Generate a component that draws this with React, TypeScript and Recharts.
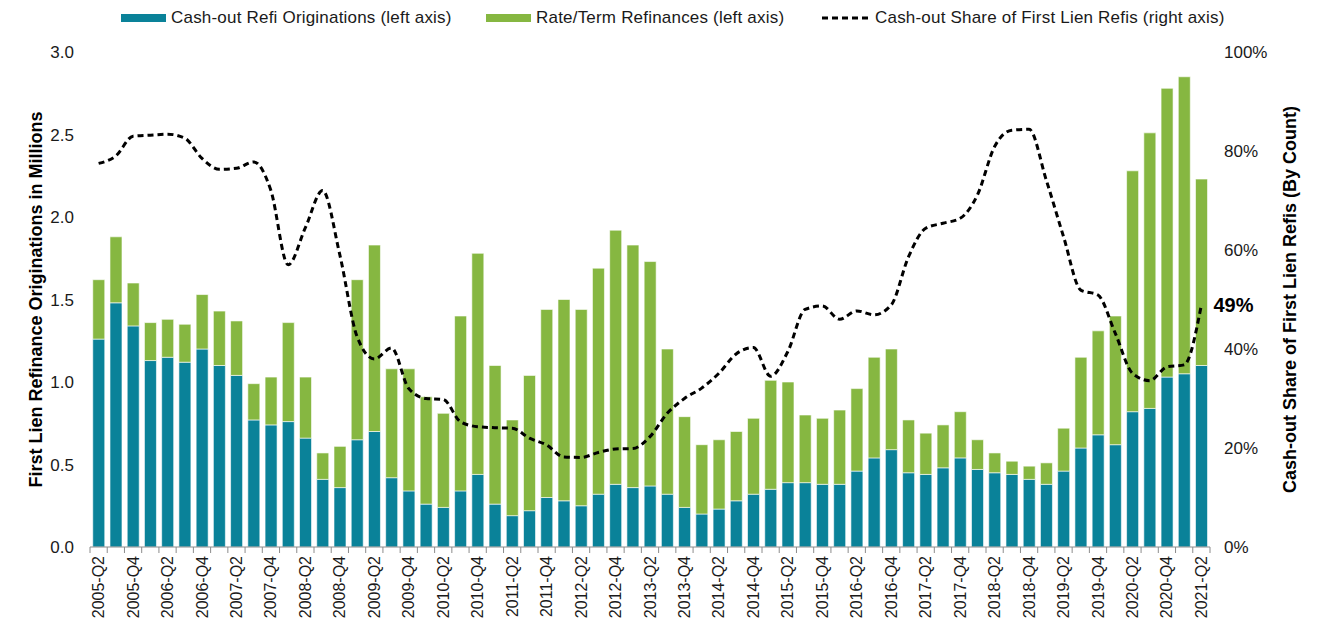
import React from 'react';
import { ComposedChart, Bar, Line, XAxis, YAxis, Legend, LabelList } from 'recharts';

const quarters = [
  '2005-Q2', '2005-Q3', '2005-Q4',
  '2006-Q1', '2006-Q2', '2006-Q3', '2006-Q4',
  '2007-Q1', '2007-Q2', '2007-Q3', '2007-Q4',
  '2008-Q1', '2008-Q2', '2008-Q3', '2008-Q4',
  '2009-Q1', '2009-Q2', '2009-Q3', '2009-Q4',
  '2010-Q1', '2010-Q2', '2010-Q3', '2010-Q4',
  '2011-Q1', '2011-Q2', '2011-Q3', '2011-Q4',
  '2012-Q1', '2012-Q2', '2012-Q3', '2012-Q4',
  '2013-Q1', '2013-Q2', '2013-Q3', '2013-Q4',
  '2014-Q1', '2014-Q2', '2014-Q3', '2014-Q4',
  '2015-Q1', '2015-Q2', '2015-Q3', '2015-Q4',
  '2016-Q1', '2016-Q2', '2016-Q3', '2016-Q4',
  '2017-Q1', '2017-Q2', '2017-Q3', '2017-Q4',
  '2018-Q1', '2018-Q2', '2018-Q3', '2018-Q4',
  '2019-Q1', '2019-Q2', '2019-Q3', '2019-Q4',
  '2020-Q1', '2020-Q2', '2020-Q3', '2020-Q4',
  '2021-Q1', '2021-Q2',
];

// millions of loans
const cashOut = [
  1.26, 1.48, 1.34,
  1.13, 1.15, 1.12, 1.20,
  1.10, 1.04, 0.77, 0.74,
  0.76, 0.66, 0.41, 0.36,
  0.65, 0.70, 0.42, 0.34,
  0.26, 0.24, 0.34, 0.44,
  0.26, 0.19, 0.22, 0.30,
  0.28, 0.25, 0.32, 0.38,
  0.36, 0.37, 0.32, 0.24,
  0.20, 0.23, 0.28, 0.32,
  0.35, 0.39, 0.39, 0.38,
  0.38, 0.46, 0.54, 0.59,
  0.45, 0.44, 0.48, 0.54,
  0.47, 0.45, 0.44, 0.41,
  0.38, 0.46, 0.60, 0.68,
  0.62, 0.82, 0.84, 1.03,
  1.05, 1.10,
];

const rateTerm = [
  0.36, 0.40, 0.26,
  0.23, 0.23, 0.23, 0.33,
  0.33, 0.33, 0.22, 0.29,
  0.60, 0.37, 0.16, 0.25,
  0.97, 1.13, 0.66, 0.74,
  0.65, 0.57, 1.06, 1.34,
  0.84, 0.58, 0.82, 1.14,
  1.22, 1.19, 1.37, 1.54,
  1.47, 1.36, 0.88, 0.55,
  0.42, 0.42, 0.42, 0.46,
  0.66, 0.61, 0.41, 0.40,
  0.45, 0.50, 0.61, 0.61,
  0.32, 0.25, 0.26, 0.28,
  0.18, 0.12, 0.08, 0.08,
  0.13, 0.26, 0.55, 0.63,
  0.78, 1.46, 1.67, 1.75,
  1.80, 1.13,
];

// percent of first lien refis
const cashOutShare = [
  77.5, 79, 83,
  83.2, 83.4, 82.6, 78.5,
  76.3, 76.5, 77.8, 72,
  57, 64.5, 72, 59,
  42.5, 38, 40.2, 32,
  30, 29.8, 25.3, 24.3,
  24.1, 24, 22, 20.6,
  18.2, 18.1, 19.1, 19.8,
  19.9, 22.3, 27, 30,
  32.1, 35.1, 39, 40.3,
  34.5, 39.5, 48, 48.7,
  46, 47.7, 46.9, 48.9,
  58.6, 64.4, 65.4, 66.4,
  71.1, 80.9, 84.2, 84.4,
  74.1, 62.7, 51.9, 50.9,
  43.2, 35.1, 33.6, 36.4,
  36.8, 48.9,
];

const leftTicks = [0, 0.5, 1, 1.5, 2, 2.5, 3];
const rightTicks = [0, 20, 40, 60, 80, 100];
const legendOrder = ['cashOut', 'rateTerm', 'share'];
const legendWidths = [365, 336, 420];

const TEAL = '#0A8299';
const GREEN = '#86B741';
const INK = '#1a1a1a';
const FONT = '"Liberation Sans", Arial, Helvetica, sans-serif';

const data = quarters.map((q, i) => ({
  q,
  cashOut: cashOut[i],
  rateTerm: rateTerm[i],
  share: cashOutShare[i],
}));

const QuarterTick = (props: any) => {
  const { x, y, payload, index } = props;
  const half = payload.offset ?? 8.6;
  const isLast = index === quarters.length - 1;
  return (
    <g>
      <line x1={x - half} x2={x - half} y1={y} y2={y + 6} stroke="#8c8c8c" />
      {isLast && <line x1={x + half} x2={x + half} y1={y} y2={y + 6} stroke="#8c8c8c" />}
      {index % 2 === 0 && (
        <text
          transform={`translate(${x},${y + 9}) rotate(-90)`}
          textAnchor="end"
          dominantBaseline="central"
          fontSize={16}
          fill={INK}
        >
          {payload.value}
        </text>
      )}
    </g>
  );
};

const AxisTitle = (props: any) => {
  const { viewBox, text, dx } = props;
  const cx = viewBox.x + dx;
  const cy = viewBox.y + viewBox.height / 2;
  return (
    <text
      transform={`translate(${cx},${cy}) rotate(-90)`}
      textAnchor="middle"
      dominantBaseline="central"
      fontSize={18}
      fontWeight="bold"
      fill="#000"
    >
      {text}
    </text>
  );
};

const EndLabel = (props: any) => {
  const { x, y, value, index } = props;
  if (index !== cashOutShare.length - 1) return null;
  return (
    <text x={x + 12} y={y} dominantBaseline="central" fontSize={20} fontWeight="bold" fill="#000">
      {Math.round(value)}%
    </text>
  );
};

const LegendContent = (props: any) => {
  const items = [...(props.payload || [])].sort(
    (a: any, b: any) => legendOrder.indexOf(a.dataKey) - legendOrder.indexOf(b.dataKey)
  );
  return (
    <div style={{ display: 'flex', alignItems: 'center', paddingLeft: 113, height: 20, fontSize: 17, letterSpacing: 0.2, color: INK, whiteSpace: 'nowrap' }}>
      {items.map((entry: any, i: number) => (
        <div key={i} style={{ display: 'flex', alignItems: 'center', width: legendWidths[i] }}>
          {entry.type === 'line' ? (
            <svg width={48} height={8} style={{ marginRight: 5 }}>
              <line x1={0} x2={48} y1={4} y2={4} stroke="#000" strokeWidth={3} strokeDasharray="6 4" />
            </svg>
          ) : (
            <span style={{ display: 'inline-block', width: 45, height: 8, background: entry.color, marginRight: 5 }} />
          )}
          <span>{entry.value}</span>
        </div>
      ))}
    </div>
  );
};

export default function App() {
  return (
    <div style={{ width: 1314, height: 611, fontFamily: FONT }}>
      <ComposedChart
        width={1314}
        height={611}
        data={data}
        margin={{ top: 44, right: 0, bottom: 0, left: 0 }}
        barCategoryGap="16%"
        style={{ fontFamily: FONT }}
      >
        <XAxis
          dataKey="q"
          interval={0}
          height={72}
          tickSize={0}
          tickMargin={0}
          tickLine={false}
          axisLine={{ stroke: '#8c8c8c' }}
          tick={<QuarterTick />}
        />
        <YAxis
          yAxisId="left"
          width={82}
          domain={[0, 3]}
          ticks={leftTicks}
          axisLine={false}
          tickLine={false}
          tickMargin={10}
          tickFormatter={(v: number) => v.toFixed(1)}
          tick={{ fontSize: 17, fill: INK }}
          label={<AxisTitle text="First Lien Refinance Originations in Millions" dx={28} />}
        />
        <YAxis
          yAxisId="right"
          orientation="right"
          width={112}
          domain={[0, 100]}
          ticks={rightTicks}
          axisLine={false}
          tickLine={false}
          tickMargin={8}
          tickFormatter={(v: number) => `${v}%`}
          tick={{ fontSize: 17, fill: INK }}
          label={<AxisTitle text="Cash-out Share of First Lien Refis (By Count)" dx={80} />}
        />
        <Legend
          verticalAlign="middle"
          align="center"
          layout="horizontal"
          wrapperStyle={{ top: 0, left: 0, width: 1314 }}
          content={<LegendContent />}
        />
        <Bar
          yAxisId="left"
          dataKey="cashOut"
          name="Cash-out Refi Originations (left axis)"
          stackId="refi"
          fill={TEAL}
          stroke="#ffffff"
          strokeOpacity={0.6}
          isAnimationActive={false}
        />
        <Bar
          yAxisId="left"
          dataKey="rateTerm"
          name="Rate/Term Refinances (left axis)"
          stackId="refi"
          fill={GREEN}
          stroke="#ffffff"
          strokeOpacity={0.6}
          isAnimationActive={false}
        />
        <Line
          yAxisId="right"
          dataKey="share"
          name="Cash-out Share of First Lien Refis (right axis)"
          type="monotone"
          stroke="#000"
          strokeWidth={3}
          strokeDasharray="6 4"
          dot={false}
          legendType="line"
          isAnimationActive={false}
        >
          <LabelList dataKey="share" content={<EndLabel />} />
        </Line>
      </ComposedChart>
    </div>
  );
}
